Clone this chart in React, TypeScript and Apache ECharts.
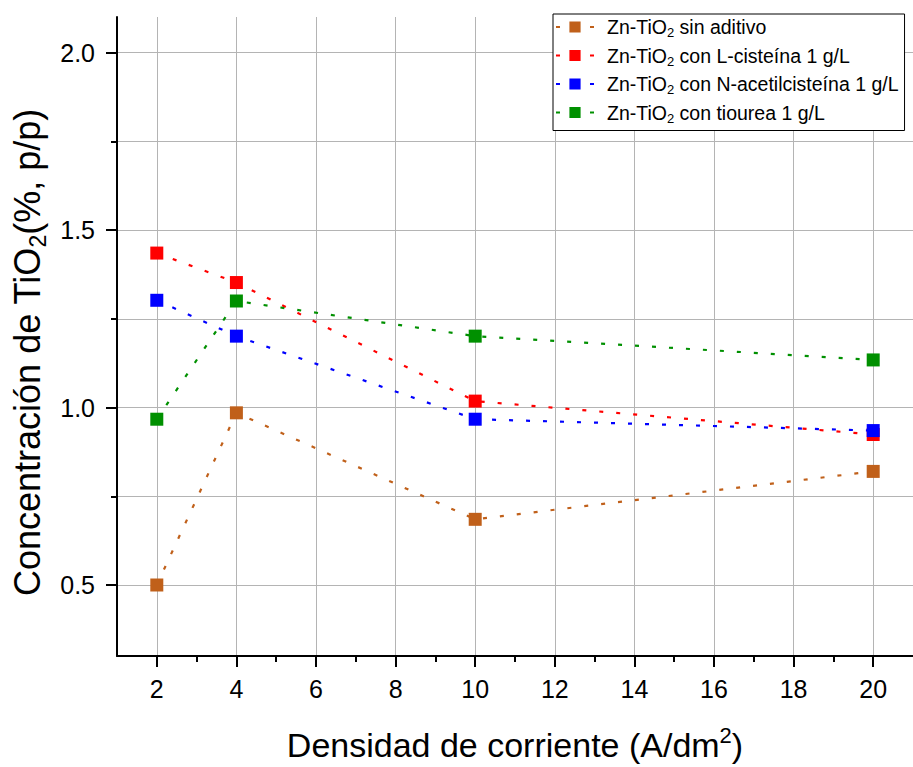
import React, { useEffect, useRef } from "react";
import * as echarts from "echarts";

const xValues = [2, 4, 10, 20];
const sinAditivo = [0.5, 0.985, 0.685, 0.82];
const lCisteina = [1.435, 1.352, 1.018, 0.924];
const nAcetilcisteina = [1.302, 1.201, 0.967, 0.935];
const tiourea = [0.967, 1.3, 1.201, 1.134];

const seriesNames = [
  "Zn-TiO2 sin aditivo",
  "Zn-TiO2 con L-cisteína 1 g/L",
  "Zn-TiO2 con N-acetilcisteína 1 g/L",
  "Zn-TiO2 con tiourea 1 g/L",
];
const legendRich = [
  "{n|Zn-TiO}{s|2}{n| sin aditivo}",
  "{n|Zn-TiO}{s|2}{n| con L-cisteína 1 g/L}",
  "{n|Zn-TiO}{s|2}{n| con N-acetilcisteína 1 g/L}",
  "{n|Zn-TiO}{s|2}{n| con tiourea 1 g/L}",
];
const seriesColors = ["#C0601A", "#FF0000", "#0000FF", "#009000"];
const seriesData = [sinAditivo, lCisteina, nAcetilcisteina, tiourea];

const xTickValues = [2, 4, 6, 8, 10, 12, 14, 16, 18, 20];
const yTickValues = [0.5, 1.0, 1.5, 2.0];

const FONT = "'Liberation Sans', Arial, sans-serif";

export default function App() {
  const ref = useRef<HTMLDivElement>(null);
  useEffect(() => {
    if (!ref.current) return;
    const chart = echarts.init(ref.current, undefined, { renderer: "svg" });
    const gridLine = { show: true, lineStyle: { color: "#b4b4b4", width: 1 } };
    const option: any = {
      animation: false,
      backgroundColor: "#ffffff",
      textStyle: { fontFamily: FONT },
      grid: { left: 117, top: 17, width: 800, height: 646, containLabel: false },
      legend: {
        show: true,
        orient: "vertical",
        left: 553,
        top: 14,
        padding: [3, 6, 6, 2],
        itemGap: 6.5,
        itemWidth: 38,
        itemHeight: 14,
        borderColor: "#000",
        borderWidth: 1,
        backgroundColor: "#fff",
        data: seriesNames,
        formatter: (name: string) => legendRich[seriesNames.indexOf(name)],
        textStyle: {
          padding: [0, 0, 0, 8],
          rich: {
            n: { fontSize: 19.5, lineHeight: 24, color: "#000", fontFamily: FONT },
            s: { fontSize: 13, lineHeight: 13, verticalAlign: "bottom", color: "#000", fontFamily: FONT },
          },
        },
      },
      xAxis: {
        type: "value",
        min: 1,
        max: 21,
        minInterval: 2,
        maxInterval: 2,
        name: "{n|Densidad de corriente (A/dm}{p|2}{n|)}",
        nameLocation: "middle",
        nameGap: 68,
        nameTextStyle: {
          rich: {
            n: { fontSize: 34, lineHeight: 42, color: "#000", fontFamily: FONT },
            p: { fontSize: 22, lineHeight: 22, verticalAlign: "top", color: "#000", fontFamily: FONT },
          },
        },
        axisLine: { show: true, onZero: false, lineStyle: { color: "#000", width: 2 } },
        axisTick: { show: true, customValues: xTickValues, length: 11, lineStyle: { color: "#000", width: 2 } },
        minorTick: { show: true, splitNumber: 2, length: 6, lineStyle: { color: "#000", width: 2 } },
        axisLabel: {
          customValues: xTickValues,
          margin: 20,
          fontSize: 25,
          color: "#000",
          fontFamily: FONT,
        },
        splitLine: { ...gridLine },
        minorSplitLine: { show: false },
      },
      yAxis: {
        type: "value",
        min: 0.3,
        max: 2.1,
        minInterval: 0.5,
        maxInterval: 0.5,
        name: "{n|Concentración de TiO}{s|2}{n|(%, p/p)}",
        nameLocation: "middle",
        nameGap: 68,
        nameTextStyle: {
          padding: [0, 32, 0, 0],
          rich: {
            n: { fontSize: 36, lineHeight: 44, color: "#000", fontFamily: FONT },
            s: { fontSize: 23, lineHeight: 23, verticalAlign: "bottom", color: "#000", fontFamily: FONT },
          },
        },
        axisLine: { show: true, onZero: false, lineStyle: { color: "#000", width: 2 } },
        axisTick: { show: true, customValues: yTickValues, length: 11, lineStyle: { color: "#000", width: 2 } },
        minorTick: { show: true, splitNumber: 2, length: 6, lineStyle: { color: "#000", width: 2 } },
        axisLabel: {
          customValues: yTickValues,
          margin: 22,
          fontSize: 25,
          color: "#000",
          fontFamily: FONT,
          formatter: (v: number) => v.toFixed(1),
        },
        splitLine: { ...gridLine },
        minorSplitLine: { ...gridLine },
      },
      series: seriesNames.map((name, i) => ({
        name,
        type: "line",
        data: xValues.map((x, j) => [x, seriesData[i][j]]),
        symbol: "rect",
        symbolSize: 13,
        itemStyle: { color: seriesColors[i] },
        lineStyle: { color: seriesColors[i], width: 2.2, type: [4, 13] },
        z: 2 + i,
      })),
    };
    chart.setOption(option);
    return () => chart.dispose();
  }, []);
  return (
    <div
      ref={ref}
      style={{ position: "fixed", left: 0, top: 0, width: 913, height: 767, background: "#fff" }}
    />
  );
}
